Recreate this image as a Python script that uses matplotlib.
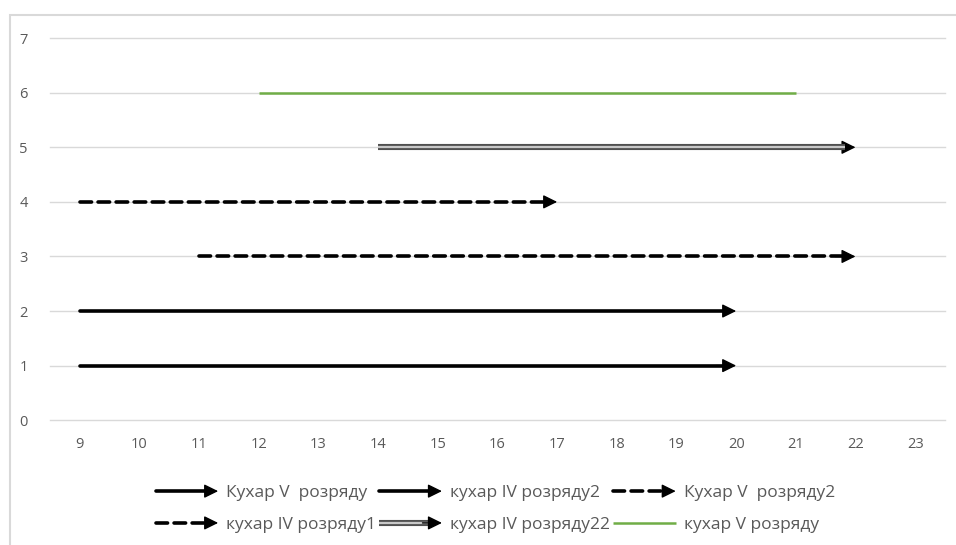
import matplotlib
matplotlib.use("Agg")
import matplotlib.pyplot as plt
from matplotlib.lines import Line2D
from matplotlib.patches import FancyArrowPatch, Rectangle
from matplotlib.legend_handler import HandlerBase

plt.rcParams['font.family'] = ['Open Sans', 'DejaVu Sans']

# data: each series is a horizontal interval at a given level
labels = ["Кухар V  розряду", "кухар IV розряду2", "Кухар V  розряду2",
          "кухар IV розряду1", "кухар IV розряду22", "кухар V розряду"]
levels = [1, 2, 3, 4, 5, 6]
starts = [9, 9, 11, 9, 14, 12]
ends = [20, 20, 22, 17, 22, 21]
kinds = ["solid", "solid", "dashed", "dashed", "double", "plain"]

x_ticks = list(range(9, 24))
y_ticks = list(range(0, 8))

TXT = "#595959"
GRID = "#d9d9d9"
HEAD = "-|>,head_length=0.85,head_width=0.42"


def draw_series(kind, x0, x1, y, trans, head_back):
    """return list of artists for one arrow / line, head_back in same units as x"""
    arts = []
    if kind == "plain":
        arts.append(Line2D([x0, x1], [y, y], color="#70ad47", lw=1.8,
                           transform=trans, solid_capstyle="butt"))
        return arts
    if kind == "solid":
        arts.append(Line2D([x0, x1 - head_back], [y, y], color="black", lw=2.6,
                           transform=trans, solid_capstyle="round"))
    elif kind == "dashed":
        arts.append(Line2D([x0, x1 - head_back], [y, y], color="black", lw=2.6,
                           ls=(0, (3.2, 1.8)), transform=trans,
                           dash_capstyle="round"))
    elif kind == "double":
        arts.append(Line2D([x0, x1 - head_back], [y, y], color="#505050", lw=4.4,
                           transform=trans, solid_capstyle="butt"))
        arts.append(Line2D([x0, x1 - head_back], [y, y], color="#c8c8c8", lw=1.6,
                           transform=trans, solid_capstyle="butt"))
    arts.append(FancyArrowPatch((x1 - 2 * head_back, y), (x1, y), arrowstyle=HEAD,
                                mutation_scale=10, color="black", lw=1.0,
                                shrinkA=0, shrinkB=0, transform=trans))
    return arts


class HandlerSeries(HandlerBase):
    def create_artists(self, legend, orig_handle, xdescent, ydescent,
                       width, height, fontsize, trans):
        y = height / 2 - ydescent
        return draw_series(orig_handle.kind, -xdescent, width - xdescent, y, trans, 7)


class SeriesProxy(Line2D):
    def __init__(self, kind):
        super().__init__([], [])
        self.kind = kind


fig = plt.figure(figsize=(9.56, 5.45), dpi=100)
ax = fig.add_axes([0.0523, 0.229, 0.9362, 0.701])

for kind, x0, x1, y in zip(kinds, starts, ends, levels):
    for a in draw_series(kind, x0, x1, y, ax.transData, 0.17):
        if isinstance(a, FancyArrowPatch):
            ax.add_patch(a)
        else:
            ax.add_line(a)

ax.set_xlim(8.5, 23.5)
ax.set_ylim(0, 7)
ax.set_xticks(x_ticks)
ax.set_yticks(y_ticks)
ax.tick_params(length=0, colors=TXT, labelsize=10.5)
ax.tick_params(axis="x", pad=12)
ax.tick_params(axis="y", pad=16)
ax.grid(axis="y", color=GRID, lw=1)
for gl in ax.get_ygridlines():
    gl.set_clip_on(False)
ax.set_axisbelow(True)
for s in ax.spines.values():
    s.set_visible(False)

# outer chart border (cut off at right / bottom)
fig.add_artist(Rectangle((10 / 956, -0.1), 1.2, 1 - 15 / 545 + 0.1,
                         transform=fig.transFigure, fill=False,
                         ec=GRID, lw=1.5))

proxies = [SeriesProxy(k) for k in kinds]
order = [0, 3, 1, 4, 2, 5]
fig.legend([proxies[i] for i in order], [labels[i] for i in order],
           handler_map={SeriesProxy: HandlerSeries()},
           loc="center", bbox_to_anchor=(0.518, 0.066), ncol=3, frameon=False,
           handlelength=3.6, handletextpad=0.45, columnspacing=0.2,
           labelspacing=0.9, fontsize=12.5, labelcolor=TXT)

fig.savefig("out.png", dpi=100)
